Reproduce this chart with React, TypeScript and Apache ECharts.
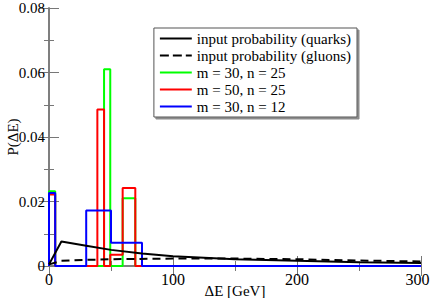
import React, { useEffect, useRef } from "react";
import * as echarts from "echarts";

const quarksX = [0, 10, 30, 50, 75, 100, 150, 200, 250, 300];
const quarksY = [0.0005, 0.0076, 0.0063, 0.005, 0.0039, 0.003, 0.0021, 0.0016, 0.0012, 0.0009];
const gluonsX = [0, 10, 30, 50, 100, 150, 200, 250, 300];
const gluonsY = [0.0005, 0.0016, 0.0019, 0.0021, 0.0023, 0.0023, 0.0021, 0.0017, 0.0014];

const greenEdges = [0, 5, 44.4, 49.4, 59.4, 69.6, 300];
const greenHeights = [0.0232, 0, 0.061, 0, 0.021, 0];
const redEdges = [0, 5, 39, 44.4, 49.4, 59.4, 69.6, 300];
const redHeights = [0.0222, 0, 0.0485, 0, 0.0035, 0.0242, 0];
const blueEdges = [0, 5, 30, 50, 75, 300];
const blueHeights = [0.0226, 0, 0.0172, 0.0072, 0];

const FONT = "Liberation Serif";

const SOLID_ICON = "path://M0,-7h0.05v0.05h-0.05zM0,-1h32v2h-32zM0,7h0.05v0.05h-0.05z";
const DASH_ICON =
  "path://M0,-7h0.05v0.05h-0.05zM0,-1h9v2h-9zM13,-1h9v2h-9zM26,-1h6v2h-6zM0,7h0.05v0.05h-0.05z";

function outline(edges: number[], heights: number[]) {
  const pts: number[][] = [[edges[0], 0]];
  for (let i = 0; i < heights.length; i++) {
    pts.push([edges[i], heights[i]]);
    pts.push([edges[i + 1], heights[i]]);
  }
  pts.push([edges[edges.length - 1], 0]);
  return pts;
}

export default function App() {
  const ref = useRef<HTMLDivElement>(null);
  useEffect(() => {
    const chart = echarts.init(ref.current!, undefined, { renderer: "svg" });
    const axisLine = { show: true, lineStyle: { color: "#777", width: 1.5 } };
    const tickStyle = { color: "#777", width: 1 };
    chart.setOption({
      animation: false,
      backgroundColor: "#fff",
      grid: { left: 49, right: 10, top: 8, bottom: 32, containLabel: false, outerBoundsMode: "none" },
      xAxis: [
        {
          type: "value", min: 0, max: 300, interval: 100, position: "bottom",
          axisLine, axisTick: { inside: true, length: 10, lineStyle: tickStyle },
          minorTick: { show: true, splitNumber: 2, length: 5, lineStyle: tickStyle },
          splitLine: { show: false },
          axisLabel: {
            color: "#000", fontFamily: FONT, fontSize: 16, margin: 5,
            formatter: (v: number) => (v === 300 ? "{r|300}" : String(v)),
            rich: { r: { fontFamily: FONT, fontSize: 16, color: "#000", padding: [0, 7, 0, 0] } },
          },
          name: "ΔE [GeV]", nameLocation: "middle", nameGap: 17, nameMoveOverlap: false,
          nameTextStyle: { color: "#000", fontFamily: FONT, fontSize: 15 },
        },
        {
          type: "value", min: 0, max: 300, interval: 100, position: "top",
          axisLine, axisTick: { inside: true, length: 10, lineStyle: tickStyle },
          minorTick: { show: true, splitNumber: 2, length: 5, lineStyle: tickStyle },
          splitLine: { show: false }, axisLabel: { show: false },
        },
      ],
      yAxis: [
        {
          type: "value", min: 0, max: 0.08, interval: 0.02, position: "left",
          axisLine, axisTick: { inside: true, length: 10, lineStyle: tickStyle },
          minorTick: { show: true, splitNumber: 2, length: 5, lineStyle: tickStyle },
          splitLine: { show: false },
          axisLabel: {
            color: "#000", fontFamily: FONT, fontSize: 15, margin: 4,
            formatter: (v: number) => (v === 0 ? "0" : v.toFixed(2)),
          },
          name: "P(ΔE)", nameLocation: "middle", nameGap: 29, nameRotate: 90, nameMoveOverlap: false,
          nameTextStyle: { color: "#000", fontFamily: FONT, fontSize: 15 },
        },
        {
          type: "value", min: 0, max: 0.08, interval: 0.02, position: "right",
          axisLine, axisTick: { inside: true, length: 10, lineStyle: tickStyle },
          minorTick: { show: true, splitNumber: 2, length: 5, lineStyle: tickStyle },
          splitLine: { show: false }, axisLabel: { show: false },
        },
      ],
      legend: {
        orient: "vertical", right: 74, top: 28,
        itemWidth: 32, itemHeight: 14, itemGap: 2,
        padding: [3, 6, 3, 6],
        backgroundColor: "#fff", borderColor: "#555", borderWidth: 1,
        shadowColor: "rgba(0,0,0,0.45)", shadowOffsetX: 2, shadowOffsetY: 2, shadowBlur: 0,
        textStyle: { color: "#000", fontFamily: FONT, fontSize: 15 },
        data: [
          { name: "input probability (quarks)", icon: SOLID_ICON },
          { name: "input probability (gluons)", icon: DASH_ICON },
          { name: "m = 30, n = 25", icon: SOLID_ICON },
          { name: "m = 50, n = 25", icon: SOLID_ICON },
          { name: "m = 30, n = 12", icon: SOLID_ICON },
        ],
      },
      series: [
        {
          name: "input probability (quarks)", type: "line", symbol: "none",
          lineStyle: { color: "#000", width: 2 }, itemStyle: { color: "#000" },
          data: quarksX.map((x, i) => [x, quarksY[i]]), z: 3,
        },
        {
          name: "input probability (gluons)", type: "line", symbol: "none",
          lineStyle: { color: "#000", width: 2, type: [8, 5] }, itemStyle: { color: "#000" },
          data: gluonsX.map((x, i) => [x, gluonsY[i]]), z: 3,
        },
        {
          name: "m = 30, n = 25", type: "line", symbol: "none",
          lineStyle: { color: "#00ff00", width: 2 }, itemStyle: { color: "#00ff00" },
          data: outline(greenEdges, greenHeights), z: 2,
        },
        {
          name: "m = 50, n = 25", type: "line", symbol: "none",
          lineStyle: { color: "#ff0000", width: 2 }, itemStyle: { color: "#ff0000" },
          data: outline(redEdges, redHeights), z: 2,
        },
        {
          name: "m = 30, n = 12", type: "line", symbol: "none",
          lineStyle: { color: "#0000ff", width: 2 }, itemStyle: { color: "#0000ff" },
          data: outline(blueEdges, blueHeights), z: 2,
        },
      ],
    });
    return () => chart.dispose();
  }, []);
  return (
    <div style={{ position: "fixed", left: 0, top: 0 }}>
      <div ref={ref} style={{ width: 431, height: 298 }} />
    </div>
  );
}
